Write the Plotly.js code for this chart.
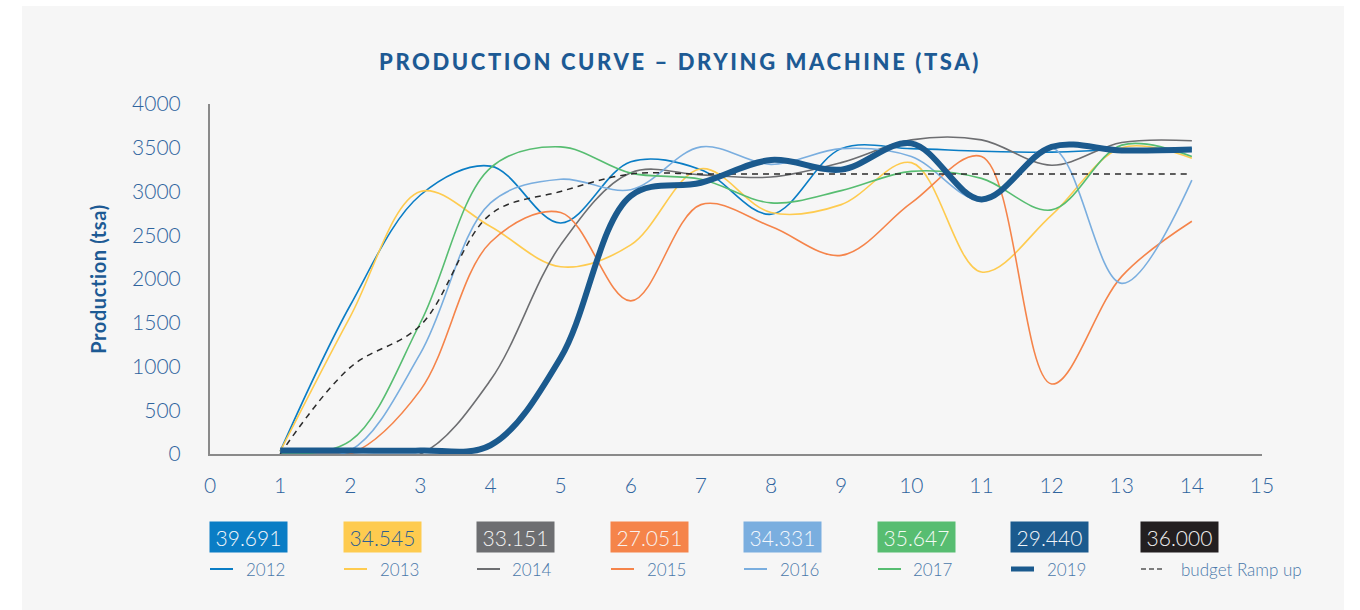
<!DOCTYPE html>
<html>
<head>
<meta charset="utf-8">
<script src="https://cdn.plot.ly/plotly-3.0.1.min.js"></script>
<style>
html,body{margin:0;padding:0;background:#ffffff;}
#chart{width:1360px;height:610px;}
.gtitle{letter-spacing:2.6px;}
.ytitle{letter-spacing:0.6px;}
</style>
</head>
<body>
<div id="chart"></div>
<script>
// ---- data ----
const months = [1, 2, 3, 4, 5, 6, 7, 8, 9, 10, 11, 12, 13, 14];
const y2012 = [30, 1700, 2960, 3290, 2640, 3340, 3250, 2740, 3490, 3490, 3460, 3450, 3480, 3490];
const y2013 = [30, 1570, 3000, 2600, 2140, 2390, 3260, 2760, 2850, 3330, 2080, 2730, 3500, 3380];
const y2014 = [0, 0, 0, 845, 2390, 3215, 3190, 3165, 3330, 3590, 3590, 3300, 3560, 3580];
const y2015 = [0, 0, 730, 2420, 2760, 1750, 2850, 2600, 2270, 2870, 3400, 800, 2030, 2660];
const y2016 = [0, 40, 1150, 2870, 3140, 3020, 3510, 3310, 3490, 3400, 2900, 3500, 1950, 3130];
const y2017 = [0, 150, 1500, 3270, 3510, 3210, 3140, 2870, 3010, 3230, 3150, 2790, 3530, 3400];
const y2019 = [40, 40, 40, 100, 1100, 2950, 3100, 3360, 3250, 3550, 2910, 3510, 3470, 3480];
const yBudget = [0, 990, 1470, 2740, 3000, 3200, 3200, 3200, 3200, 3200, 3200, 3200, 3200, 3200];

const seriesNames = ['2012', '2013', '2014', '2015', '2016', '2017', '2019', 'budget Ramp up'];
const totals = ['39.691', '34.545', '33.151', '27.051', '34.331', '35.647', '29.440', '36.000'];
const xTicks = [0, 1, 2, 3, 4, 5, 6, 7, 8, 9, 10, 11, 12, 13, 14, 15];
const yTicks = [0, 500, 1000, 1500, 2000, 2500, 3000, 3500, 4000];

// ---- styles ----
const colors = ['#0a7dc5', '#fecb4f', '#6d6e71', '#f5844a', '#7aaedf', '#57bd71', '#1b5a8e', '#231f20'];
const boxText = ['#f2f6fa', '#2f5f92', '#f2f2f2', '#f8f2ee', '#f4f8fc', '#f4faf5', '#f0f4f8', '#f0f0f0'];
const values = [y2012, y2013, y2014, y2015, y2016, y2017, y2019, yBudget];
const tickColor = '#2f649e';
const titleColor = '#1d5a94';
const FONT = 'Lato, "Open Sans", sans-serif';

// plot area in pixels
const PL = 210, PR = 1262, PT = 104, PB = 454;
const px = v => (v - PL) / (PR - PL);
const py = v => (PB - v) / (PB - PT);

const traces = [];
const order = [0, 1, 2, 3, 4, 5, 7, 6];
order.forEach(i => {
  const t = {
    x: months, y: values[i], type: 'scatter', mode: 'lines', name: seriesNames[i],
    line: {shape: 'spline', smoothing: 1, color: colors[i], width: 1.6},
    hoverinfo: 'skip', showlegend: false
  };
  if (i === 6) t.line.width = 6;
  if (i === 7) { t.line.color = '#2b2b2b'; t.line.dash = '6px,5px'; t.line.width = 1.5; }
  traces.push(t);
});

// legend (value boxes, line samples, labels)
const boxLeft = [210, 344, 477, 611, 744, 878, 1011, 1141];
const BOXW = 77, BOXH = 30, BOXY = 537, LEGY = 569;
const annotations = [];
const shapes = [{
  type: 'rect', xref: 'paper', yref: 'paper', layer: 'below',
  x0: px(22), x1: px(1344), y0: py(612), y1: py(6),
  fillcolor: '#f6f6f6', line: {width: 0}
}];
seriesNames.forEach((nm, i) => {
  annotations.push({
    xref: 'paper', yref: 'paper', x: px(boxLeft[i] + BOXW / 2), y: py(BOXY),
    xanchor: 'center', yanchor: 'middle', showarrow: false,
    text: totals[i], bgcolor: colors[i], width: BOXW, height: BOXH, borderpad: 0,
    font: {family: FONT, size: 21, color: boxText[i], weight: 300}
  });
  const ln = {type: 'line', xref: 'paper', yref: 'paper',
    x0: px(boxLeft[i]), x1: px(boxLeft[i] + 23), y0: py(LEGY), y1: py(LEGY),
    line: {color: colors[i], width: 2}};
  if (i === 6) ln.line.width = 5;
  if (i === 7) { ln.line.dash = '5px,3px'; ln.line.color = '#555555'; ln.line.width = 1.6; }
  shapes.push(ln);
  const isBudget = i === 7;
  annotations.push({
    xref: 'paper', yref: 'paper',
    x: isBudget ? px(1179) : px(boxLeft[i] + BOXW), y: py(LEGY),
    xanchor: isBudget ? 'left' : 'right', yanchor: 'middle', showarrow: false,
    text: nm, font: {family: FONT, size: 17, color: '#4a78aa', weight: 300}
  });
});

const layout = {
  width: 1360, height: 610,
  paper_bgcolor: '#ffffff', plot_bgcolor: 'rgba(0,0,0,0)',
  margin: {l: PL, r: 1360 - PR, t: PT, b: 610 - PB, pad: 0},
  showlegend: false,
  title: {
    text: 'PRODUCTION CURVE – DRYING MACHINE (TSA)',
    x: 0.5, xanchor: 'center', y: 1 - 62 / 610, yanchor: 'middle',
    font: {family: FONT, size: 22, weight: 900, color: titleColor}
  },
  xaxis: {
    range: [0, 15], tickvals: xTicks, ticktext: xTicks.map(String),
    showgrid: false, zeroline: false, showline: true, linecolor: '#8a8a8a', linewidth: 2,
    ticks: '', ticklabelstandoff: 12,
    tickfont: {family: FONT, size: 21, color: tickColor, weight: 300}
  },
  yaxis: {
    range: [0, 4000], tickvals: yTicks, ticktext: yTicks.map(String),
    showgrid: false, zeroline: false, showline: true, linecolor: '#8a8a8a', linewidth: 2,
    ticks: '', ticklabelstandoff: 23,
    tickfont: {family: FONT, size: 21, color: tickColor, weight: 300},
    title: {text: 'Production (tsa)', standoff: 20,
      font: {family: FONT, size: 20, weight: 'bold', color: titleColor}}
  },
  shapes: shapes,
  annotations: annotations
};

Plotly.newPlot('chart', traces, layout, {displayModeBar: false, staticPlot: true});
</script>
</body>
</html>
